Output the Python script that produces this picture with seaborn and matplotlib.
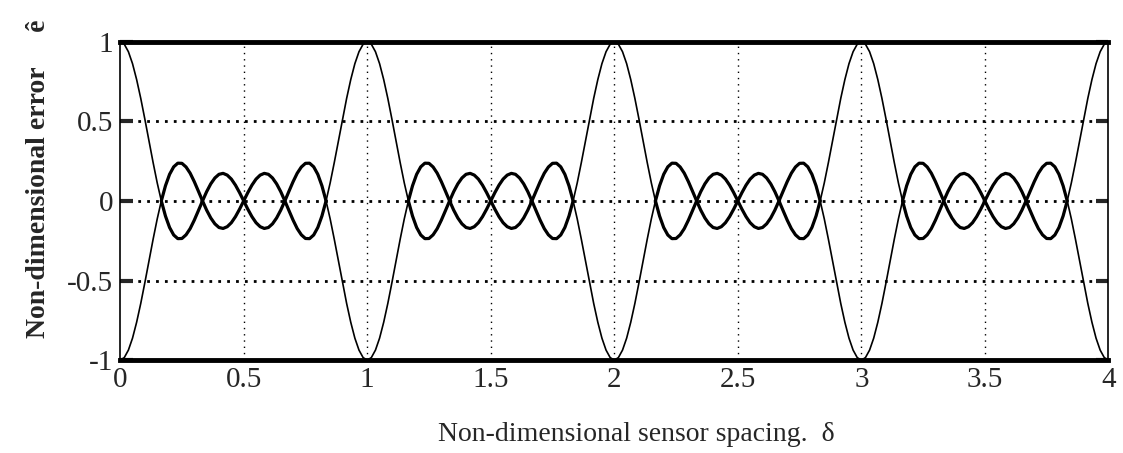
import numpy as np
import pandas as pd
import matplotlib
matplotlib.use("Agg")
import matplotlib.pyplot as plt
import seaborn as sns

# one period of the error curve (delta 0..1, step 1/60)
err_up = [1.000, 0.984, 0.937, 0.862, 0.762, 0.644, 0.513, 0.376, 0.241, 0.113,
          0.000, -0.095, -0.167, -0.214, -0.237, -0.236, -0.213, -0.174, -0.121, -0.061,
          0.000, 0.058, 0.107, 0.144, 0.167, 0.173, 0.162, 0.137, 0.099, 0.052,
          0.000, -0.052, -0.099, -0.137, -0.162, -0.173, -0.167, -0.144, -0.107, -0.058,
          0.000, 0.061, 0.121, 0.174, 0.213, 0.236, 0.237, 0.214, 0.167, 0.095,
          0.000, -0.113, -0.241, -0.376, -0.513, -0.644, -0.762, -0.862, -0.937, -0.984,
          -1.000]
err_down = [-v for v in err_up]   # mirror curve
n_periods = 4
xticks = [0, 0.5, 1, 1.5, 2, 2.5, 3, 3.5, 4]
xticklabels = ["0", "0.5", "1", "1.5", "2", "2.5", "3", "3.5", "4"]
yticks = [-1, -0.5, 0, 0.5, 1]
yticklabels = ["-1", "-0.5", "0", "0.5", "1"]

# build the full curves over 0..4 (the pair swaps every period)
step = 1 / 60
a, b = [], []
for p in range(n_periods):
    first, second = (err_up, err_down) if p % 2 == 0 else (err_down, err_up)
    start = 0 if p == 0 else 1
    a += first[start:]
    b += second[start:]
x = np.arange(len(a)) * step
df = pd.DataFrame({"delta": np.concatenate([x, x]),
                   "err": np.concatenate([a, b]),
                   "curve": ["a"] * len(a) + ["b"] * len(b)})

sns.set_style("white")
plt.rcParams["font.family"] = ["Liberation Serif", "DejaVu Serif"]

fig = plt.figure(figsize=(11.23, 4.53), dpi=100)
ax = fig.add_axes([0.107, 0.205, 0.880, 0.703])

sns.lineplot(data=df, x="delta", y="err", units="curve", estimator=None,
             color="black", lw=1.2, ax=ax, legend=False)

# sidelobe parts drawn heavier like in the scan
frac = np.mod(df["delta"].values + 1e-9, 1)
side = df[(frac > 1 / 6 - 0.005) & (frac < 5 / 6 + 0.005)].copy()
side["seg"] = side["curve"] + "_" + np.floor(side["delta"] + 1e-9).astype(int).astype(str)
sns.lineplot(data=side, x="delta", y="err", units="seg", estimator=None,
             color="black", lw=2.3, ax=ax, legend=False)

ax.set_xlim(0, 4)
ax.set_ylim(-1, 1)
ax.set_xticks(xticks)
ax.set_xticklabels(xticklabels)
ax.set_yticks(yticks)
ax.set_yticklabels(yticklabels)

for yv in [-0.5, 0, 0.5]:
    ax.axhline(yv, color="black", lw=2.0, ls=(0, (1, 2.2)), zorder=0)
for xv in xticks[1:-1]:
    ax.axvline(xv, color="black", lw=1.0, ls=(0, (1, 3.5)), zorder=0)

for s in ["top", "bottom"]:
    ax.spines[s].set_linewidth(3.5)
for s in ["left", "right"]:
    ax.spines[s].set_linewidth(1.2)
for s in ax.spines.values():
    s.set_color("black")

ax.tick_params(axis="y", direction="in", length=9, width=3, left=True, right=True,
               labelsize=21, pad=5)
ax.tick_params(axis="x", length=0, labelsize=21, pad=5)

ax.set_xlabel("Non-dimensional sensor spacing.  \u03b4", fontsize=20)
ax.xaxis.set_label_coords(0.522, -0.195)
ax.set_ylabel("Non-dimensional error     \u00ea", fontsize=20, fontweight="bold")
ax.yaxis.set_label_coords(-0.07, 0.57)

fig.savefig("out.png", dpi=100, facecolor="white")
